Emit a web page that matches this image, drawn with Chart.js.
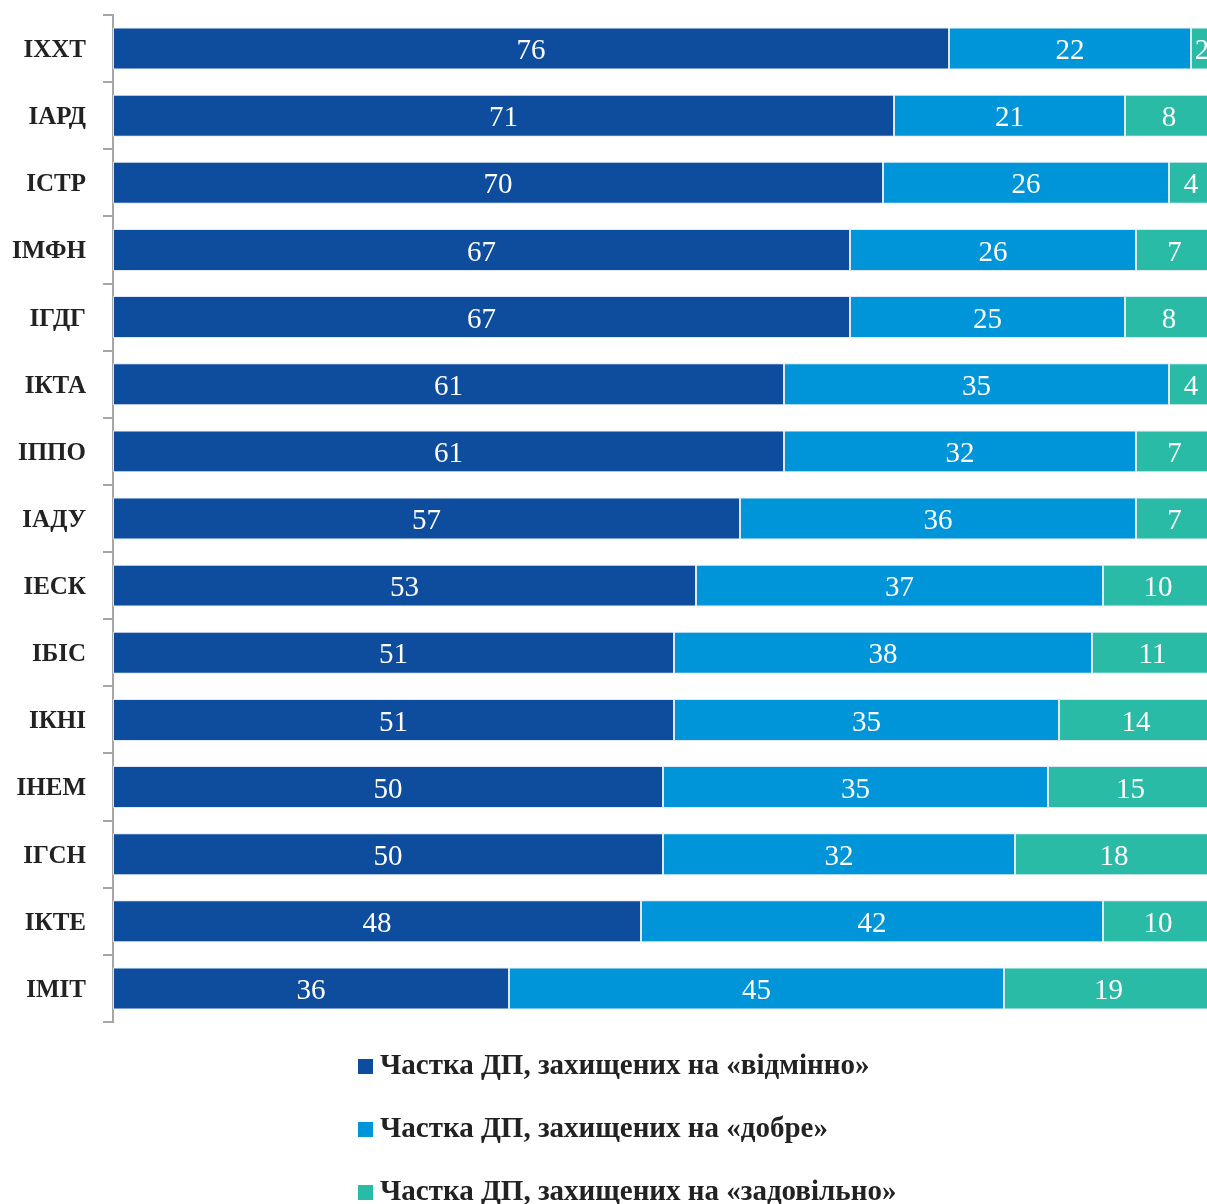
<!DOCTYPE html>
<html>
<head>
<meta charset="utf-8">
<script src="https://cdn.jsdelivr.net/npm/chart.js@4.4.1/dist/chart.umd.min.js"></script>
<style>
  html, body { margin: 0; padding: 0; background: #fff; overflow: hidden; }
  #wrap { width: 1207px; height: 1204px; overflow: hidden; }
  canvas { display: block; }
</style>
</head>
<body>
<div id="wrap"><canvas id="c" width="1213" height="1204"></canvas></div>
<script>
const categories = ["ІХХТ","ІАРД","ІСТР","ІМФН","ІГДГ","ІКТА","ІППО","ІАДУ","ІЕСК","ІБІС","ІКНІ","ІНЕМ","ІГСН","ІКТЕ","ІМІТ"];
const excellent = [76,71,70,67,67,61,61,57,53,51,51,50,50,48,36];
const good      = [22,21,26,26,25,35,32,36,37,38,35,35,32,42,45];
const satisf    = [2,8,4,7,8,4,7,7,10,11,14,15,18,10,19];
const seriesNames = [
  "Частка ДП, захищених на «відмінно»",
  "Частка ДП, захищених на «добре»",
  "Частка ДП, захищених на «задовільно»"
];
const colors = ["#0e4c9e", "#0095d9", "#2abba7"];

const SERIF = "'Liberation Serif', 'DejaVu Serif', serif";

const valueLabels = {
  id: 'valueLabels',
  afterDatasetsDraw(chart) {
    const ctx = chart.ctx;
    ctx.save();
    ctx.fillStyle = '#ffffff';
    ctx.font = "29px " + SERIF;
    ctx.textAlign = 'center';
    ctx.textBaseline = 'middle';
    chart.data.datasets.forEach((ds, di) => {
      const meta = chart.getDatasetMeta(di);
      meta.data.forEach((bar, i) => {
        const cx = (bar.x + bar.base) / 2;
        ctx.fillText(String(ds.data[i]), cx, bar.y + 3);
      });
    });
    ctx.restore();
  }
};

const stackLegend = {
  id: 'stackLegend',
  afterDraw(chart) {
    const ctx = chart.ctx;
    const top = chart.chartArea.bottom;
    ctx.save();
    ctx.font = "bold 29px " + SERIF;
    ctx.textBaseline = 'middle';
    ctx.textAlign = 'left';
    chart.data.datasets.forEach((ds, i) => {
      const y = top + 44 + i * 63;
      ctx.fillStyle = ds.backgroundColor;
      ctx.fillRect(358, y - 7, 15, 15);
      ctx.fillStyle = '#222222';
      ctx.fillText(ds.label, 380, y + 1);
    });
    ctx.restore();
  }
};

new Chart(document.getElementById('c'), {
  type: 'bar',
  data: {
    labels: categories,
    datasets: [
      { label: seriesNames[0], data: excellent, backgroundColor: colors[0] },
      { label: seriesNames[1], data: good, backgroundColor: colors[1] },
      { label: seriesNames[2], data: satisf, backgroundColor: colors[2] }
    ].map(d => Object.assign(d, {
      borderColor: 'rgba(220,230,245,0.9)',
      borderWidth: 1,
      borderSkipped: false,
      categoryPercentage: 1,
      barPercentage: 0.625
    }))
  },
  options: {
    indexAxis: 'y',
    responsive: false,
    animation: false,
    layout: { padding: { top: 15, bottom: 182, left: 0, right: 0 } },
    plugins: { legend: { display: false }, tooltip: { enabled: false } },
    scales: {
      x: { stacked: true, min: 0, max: 100, display: false },
      y: {
        stacked: true,
        afterFit(scale) { scale.width = 113; scale.paddingTop = 0; scale.paddingBottom = 0; },
        border: { display: true, color: '#a6a6a6', width: 2 },
        grid: { display: true, drawOnChartArea: false, drawTicks: true, tickLength: 10, color: '#a6a6a6', lineWidth: 2, offset: true },
        ticks: { color: '#222222', padding: 17, labelOffset: 2, font: { family: SERIF, size: 25, weight: 'bold' } }
      }
    }
  },
  plugins: [valueLabels, stackLegend]
});
</script>
</body>
</html>
